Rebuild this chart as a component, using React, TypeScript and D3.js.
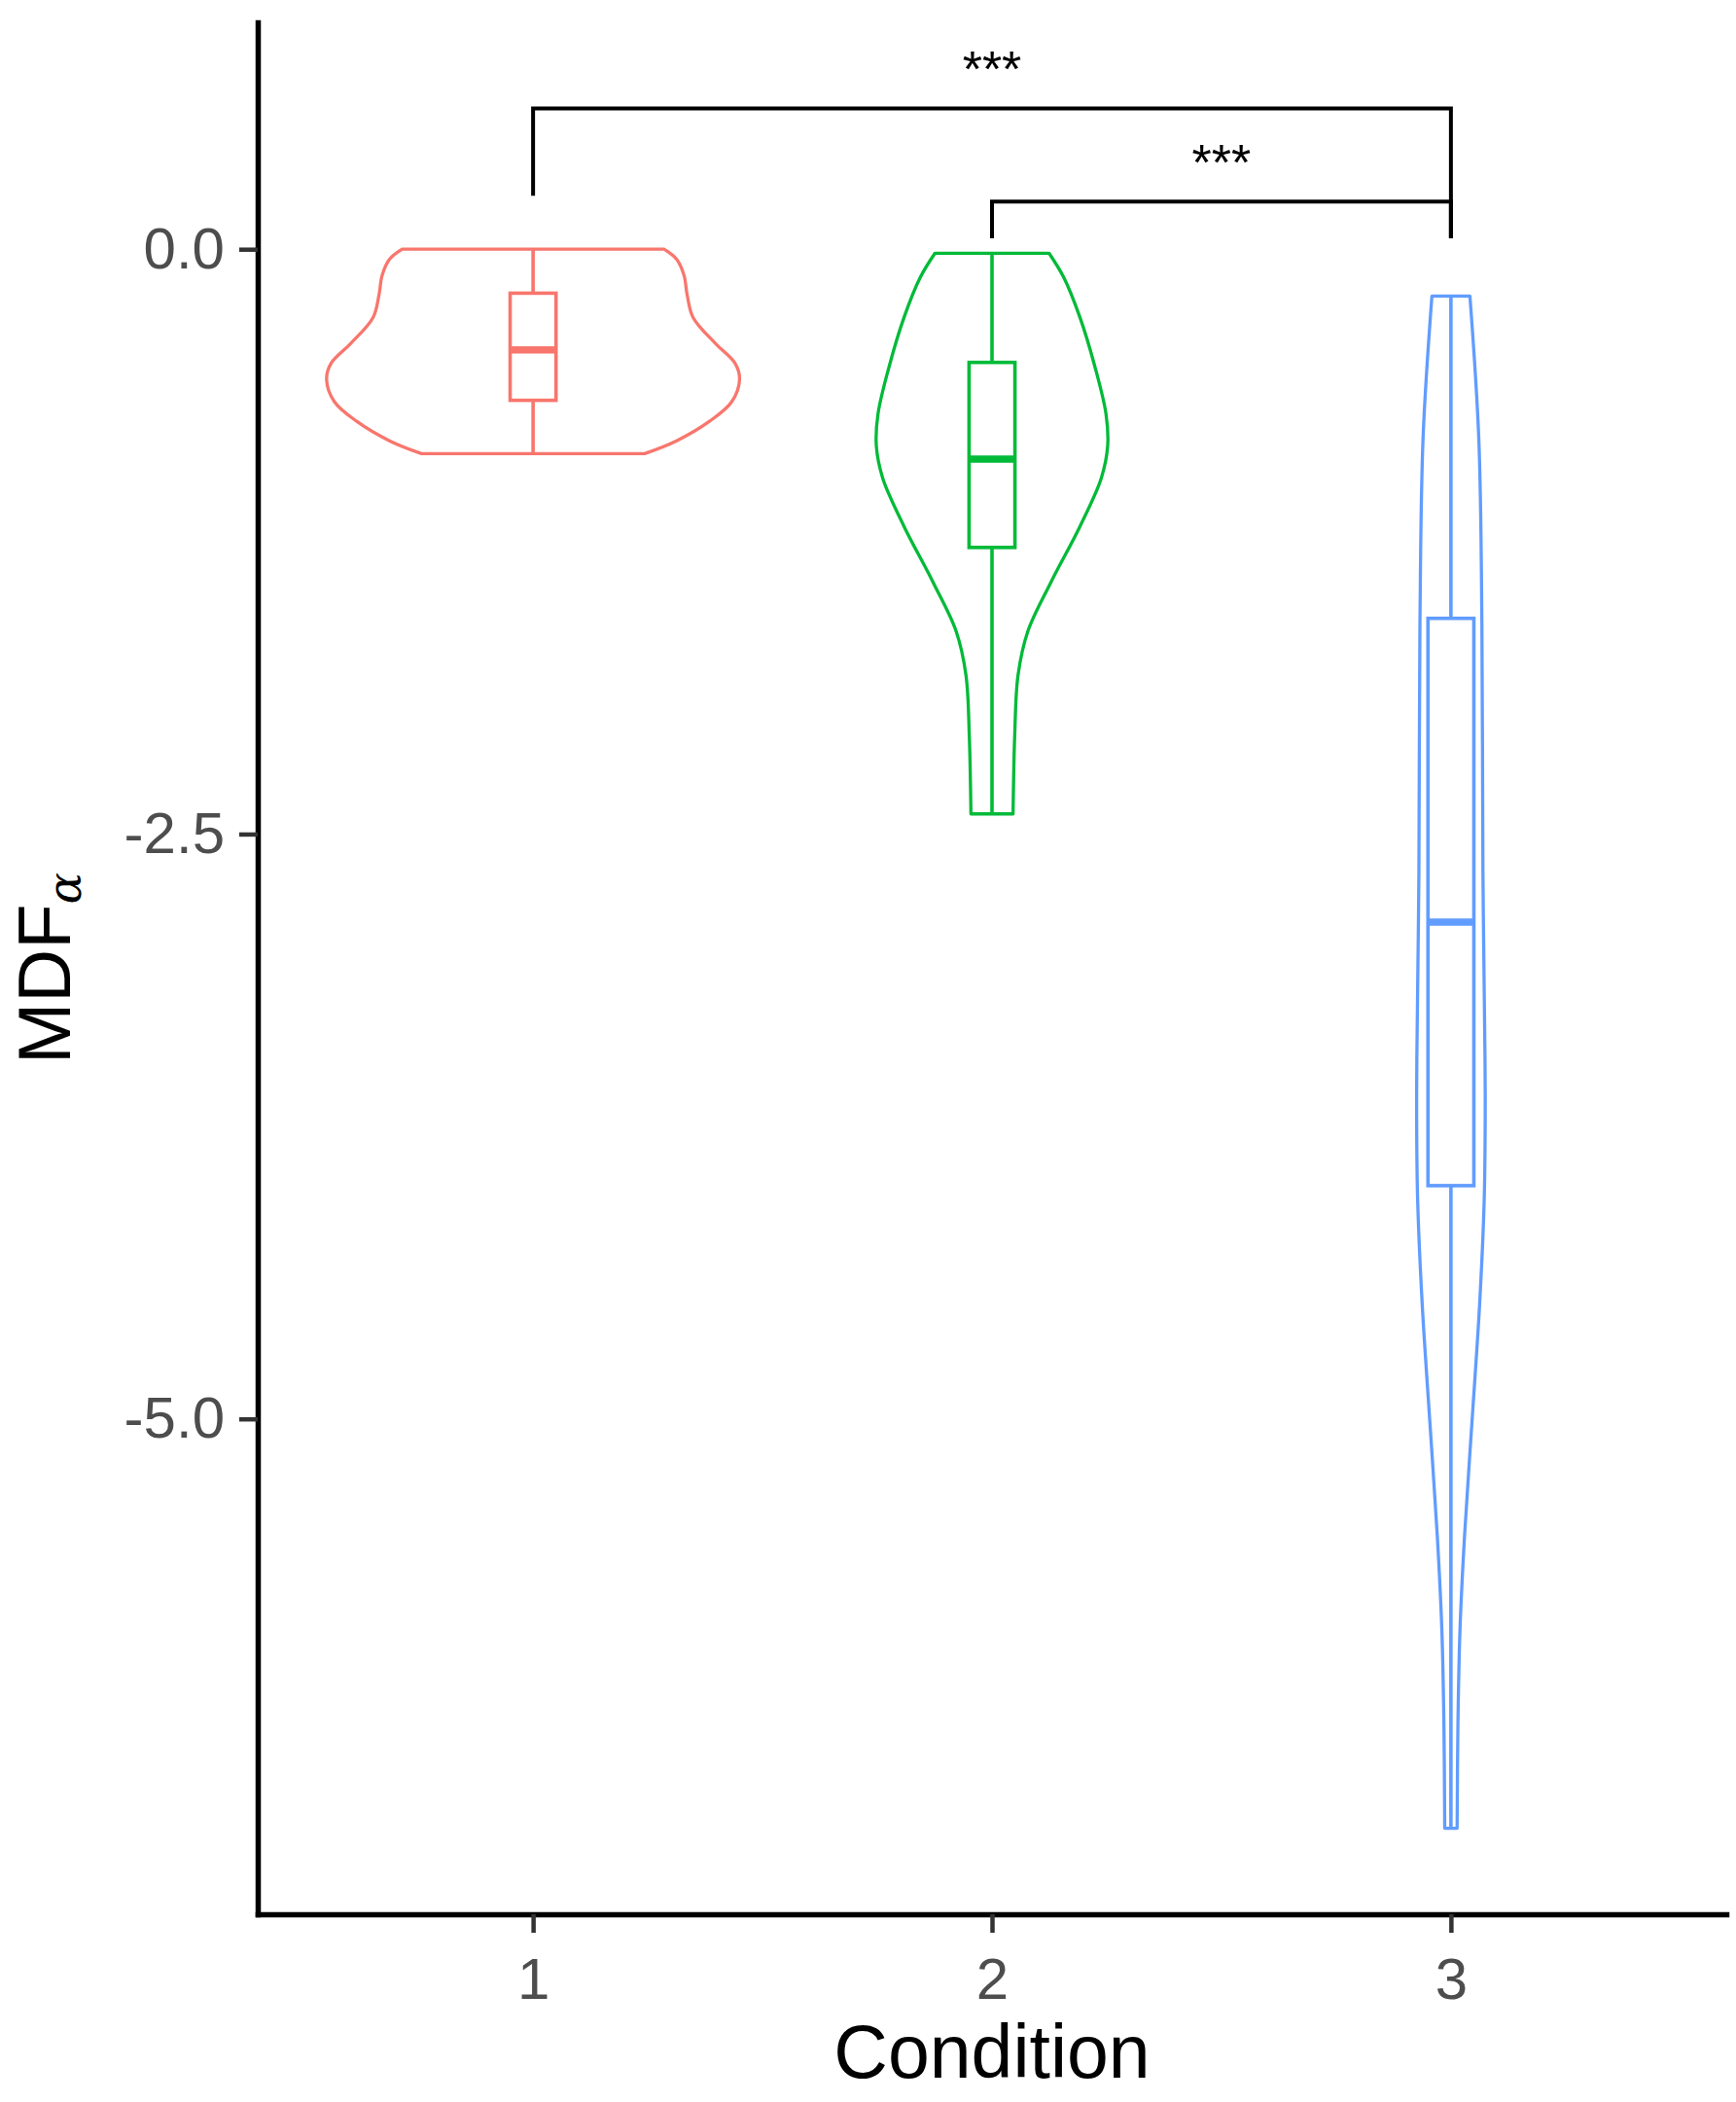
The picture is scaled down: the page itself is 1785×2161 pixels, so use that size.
import React, { useEffect, useRef } from 'react'
import * as d3 from 'd3'

const conditions = ['1', '2', '3']
const colors = ['#F8766D', '#00BA38', '#619CFF']

// violin outlines: value, half width relative to the widest violin
const violin1Y = [0, -0.043, -0.112, -0.195, -0.292, -0.403, -0.486, -0.555, -0.652, -0.736, -0.819, -0.874]
const violin1W = [0.634, 0.695, 0.731, 0.746, 0.775, 0.883, 0.977, 1.0, 0.962, 0.854, 0.695, 0.54]
const violin2Y = [-0.017, -0.12, -0.292, -0.498, -0.704, -0.842, -0.979, -1.185, -1.426, -1.632, -1.821, -2.079, -2.414]
const violin2W = [0.276, 0.347, 0.426, 0.497, 0.552, 0.56, 0.529, 0.426, 0.284, 0.174, 0.126, 0.11, 0.102]
const violin3Y = [-0.2, -0.81, -1.6, -2.66, -3.46, -3.72, -4.07, -4.51, -5.0, -5.5, -5.9, -6.3, -6.75]
const violin3W = [0.092, 0.135, 0.15, 0.155, 0.165, 0.166, 0.161, 0.139, 0.103, 0.066, 0.044, 0.034, 0.03]

const violinY = [violin1Y, violin2Y, violin3Y]
const violinW = [violin1W, violin2W, violin3W]

// boxplot stats
const whiskerTop = [0, -0.017, -0.2]
const boxTop = [-0.188, -0.484, -1.578]
const boxMedian = [-0.431, -0.897, -2.877]
const boxBottom = [-0.646, -1.275, -4.003]
const whiskerBottom = [-0.874, -2.414, -6.75]

const yTicks = [0, -2.5, -5]

// significance brackets
const bracketFrom = ['1', '2']
const bracketTo = ['3', '3']
const bracketY = [0.602, 0.203]
const bracketTipFrom = [0.228, 0.047]
const bracketTipTo = [0.047, 0.047]
const bracketLabel = ['***', '***']

const font = '"Liberation Sans", Arial, Helvetica, sans-serif'

const App = () => {
    const ref = useRef<SVGSVGElement>(null)

    useEffect(() => {
        const svg = d3.select(ref.current)
        svg.selectAll('*').remove()

        const left = 265
        const right = 1775
        const top = 23
        const bottom = 1968

        const x = d3.scalePoint<string>()
            .domain(conditions)
            .range([left, right])
            .padding(0.6)

        const lo = d3.min(whiskerBottom) as number
        const hi = d3.max(bracketY) as number
        const pad = (hi - lo) * 0.05
        const y = d3.scaleLinear()
            .domain([lo - pad, hi + pad])
            .range([bottom, top])

        const half = x.step() * 0.45
        const boxHalf = x.step() * 0.05

        // violins
        conditions.forEach((c, i) => {
            const cx = x(c) as number
            const pts = violinY[i].map((v, j) => [v, violinW[i][j]])
            const area = d3.area<number[]>()
                .y(d => y(d[0]))
                .x0(d => cx - d[1] * half)
                .x1(d => cx + d[1] * half)
                .curve(d3.curveCatmullRom)
            svg.append('path')
                .attr('d', area(pts))
                .attr('fill', 'white')
                .attr('stroke', colors[i])
                .attr('stroke-width', 3.3)
                .attr('stroke-linejoin', 'round')
        })

        // boxplots
        conditions.forEach((c, i) => {
            const cx = x(c) as number
            const g = svg.append('g').attr('stroke', colors[i])
            g.append('line')
                .attr('x1', cx).attr('x2', cx)
                .attr('y1', y(whiskerTop[i])).attr('y2', y(boxTop[i]))
                .attr('stroke-width', 3.6)
            g.append('line')
                .attr('x1', cx).attr('x2', cx)
                .attr('y1', y(boxBottom[i])).attr('y2', y(whiskerBottom[i]))
                .attr('stroke-width', 3.6)
            g.append('rect')
                .attr('x', cx - boxHalf)
                .attr('width', boxHalf * 2)
                .attr('y', y(boxTop[i]))
                .attr('height', y(boxBottom[i]) - y(boxTop[i]))
                .attr('fill', 'white')
                .attr('stroke-width', 3.6)
            g.append('line')
                .attr('x1', cx - boxHalf).attr('x2', cx + boxHalf)
                .attr('y1', y(boxMedian[i])).attr('y2', y(boxMedian[i]))
                .attr('stroke-width', 7.5)
        })

        // brackets
        bracketY.forEach((b, i) => {
            const x1 = x(bracketFrom[i]) as number
            const x2 = x(bracketTo[i]) as number
            const path = d3.path()
            path.moveTo(x1, y(bracketTipFrom[i]))
            path.lineTo(x1, y(b))
            path.lineTo(x2, y(b))
            path.lineTo(x2, y(bracketTipTo[i]))
            svg.append('path')
                .attr('d', path.toString())
                .attr('fill', 'none')
                .attr('stroke', 'black')
                .attr('stroke-width', 4)
            svg.append('text')
                .attr('x', (x1 + x2) / 2)
                .attr('y', y(b) - 22)
                .attr('text-anchor', 'middle')
                .attr('font-family', font)
                .attr('font-size', 52)
                .attr('fill', 'black')
                .text(bracketLabel[i])
        })

        // axes
        const yAxis = svg.append('g')
            .attr('transform', `translate(${left},0)`)
            .call(d3.axisLeft(y).tickValues(yTicks)
                .tickFormat(d => (d as number).toFixed(1))
                .tickSize(19).tickSizeOuter(0).tickPadding(15))
        yAxis.attr('font-family', font).attr('font-size', 60)

        const xAxis = svg.append('g')
            .attr('transform', `translate(0,${bottom})`)
            .call(d3.axisBottom(x).tickSize(19).tickSizeOuter(0).tickPadding(25))
        xAxis.attr('font-family', font).attr('font-size', 60)

        svg.selectAll('.domain')
            .attr('stroke', 'black')
            .attr('stroke-width', 5.5)
            .attr('stroke-linecap', 'square')
        svg.selectAll('.tick line')
            .attr('stroke', '#333333')
            .attr('stroke-width', 4.5)
        svg.selectAll('.tick text')
            .attr('fill', '#4D4D4D')

        // axis titles
        svg.append('text')
            .attr('x', (left + right) / 2)
            .attr('y', 2136)
            .attr('text-anchor', 'middle')
            .attr('font-family', font)
            .attr('font-size', 77)
            .attr('fill', 'black')
            .text('Condition')

        const yTitle = svg.append('text')
            .attr('transform', `translate(72,${(top + bottom) / 2}) rotate(-90)`)
            .attr('text-anchor', 'middle')
            .attr('font-family', font)
            .attr('font-size', 76)
            .attr('fill', 'black')
        yTitle.append('tspan').text('MDF')
        yTitle.append('tspan')
            .attr('dy', 11)
            .attr('font-size', 48)
            .attr('font-family', '"DejaVu Serif", serif')
            .attr('font-style', 'italic')
            .text('α')
    }, [])

    return (
        <svg ref={ref} width={1785} height={2161}
            style={{ position: 'absolute', left: 0, top: 0, background: 'white' }} />
    )
}

export default App
